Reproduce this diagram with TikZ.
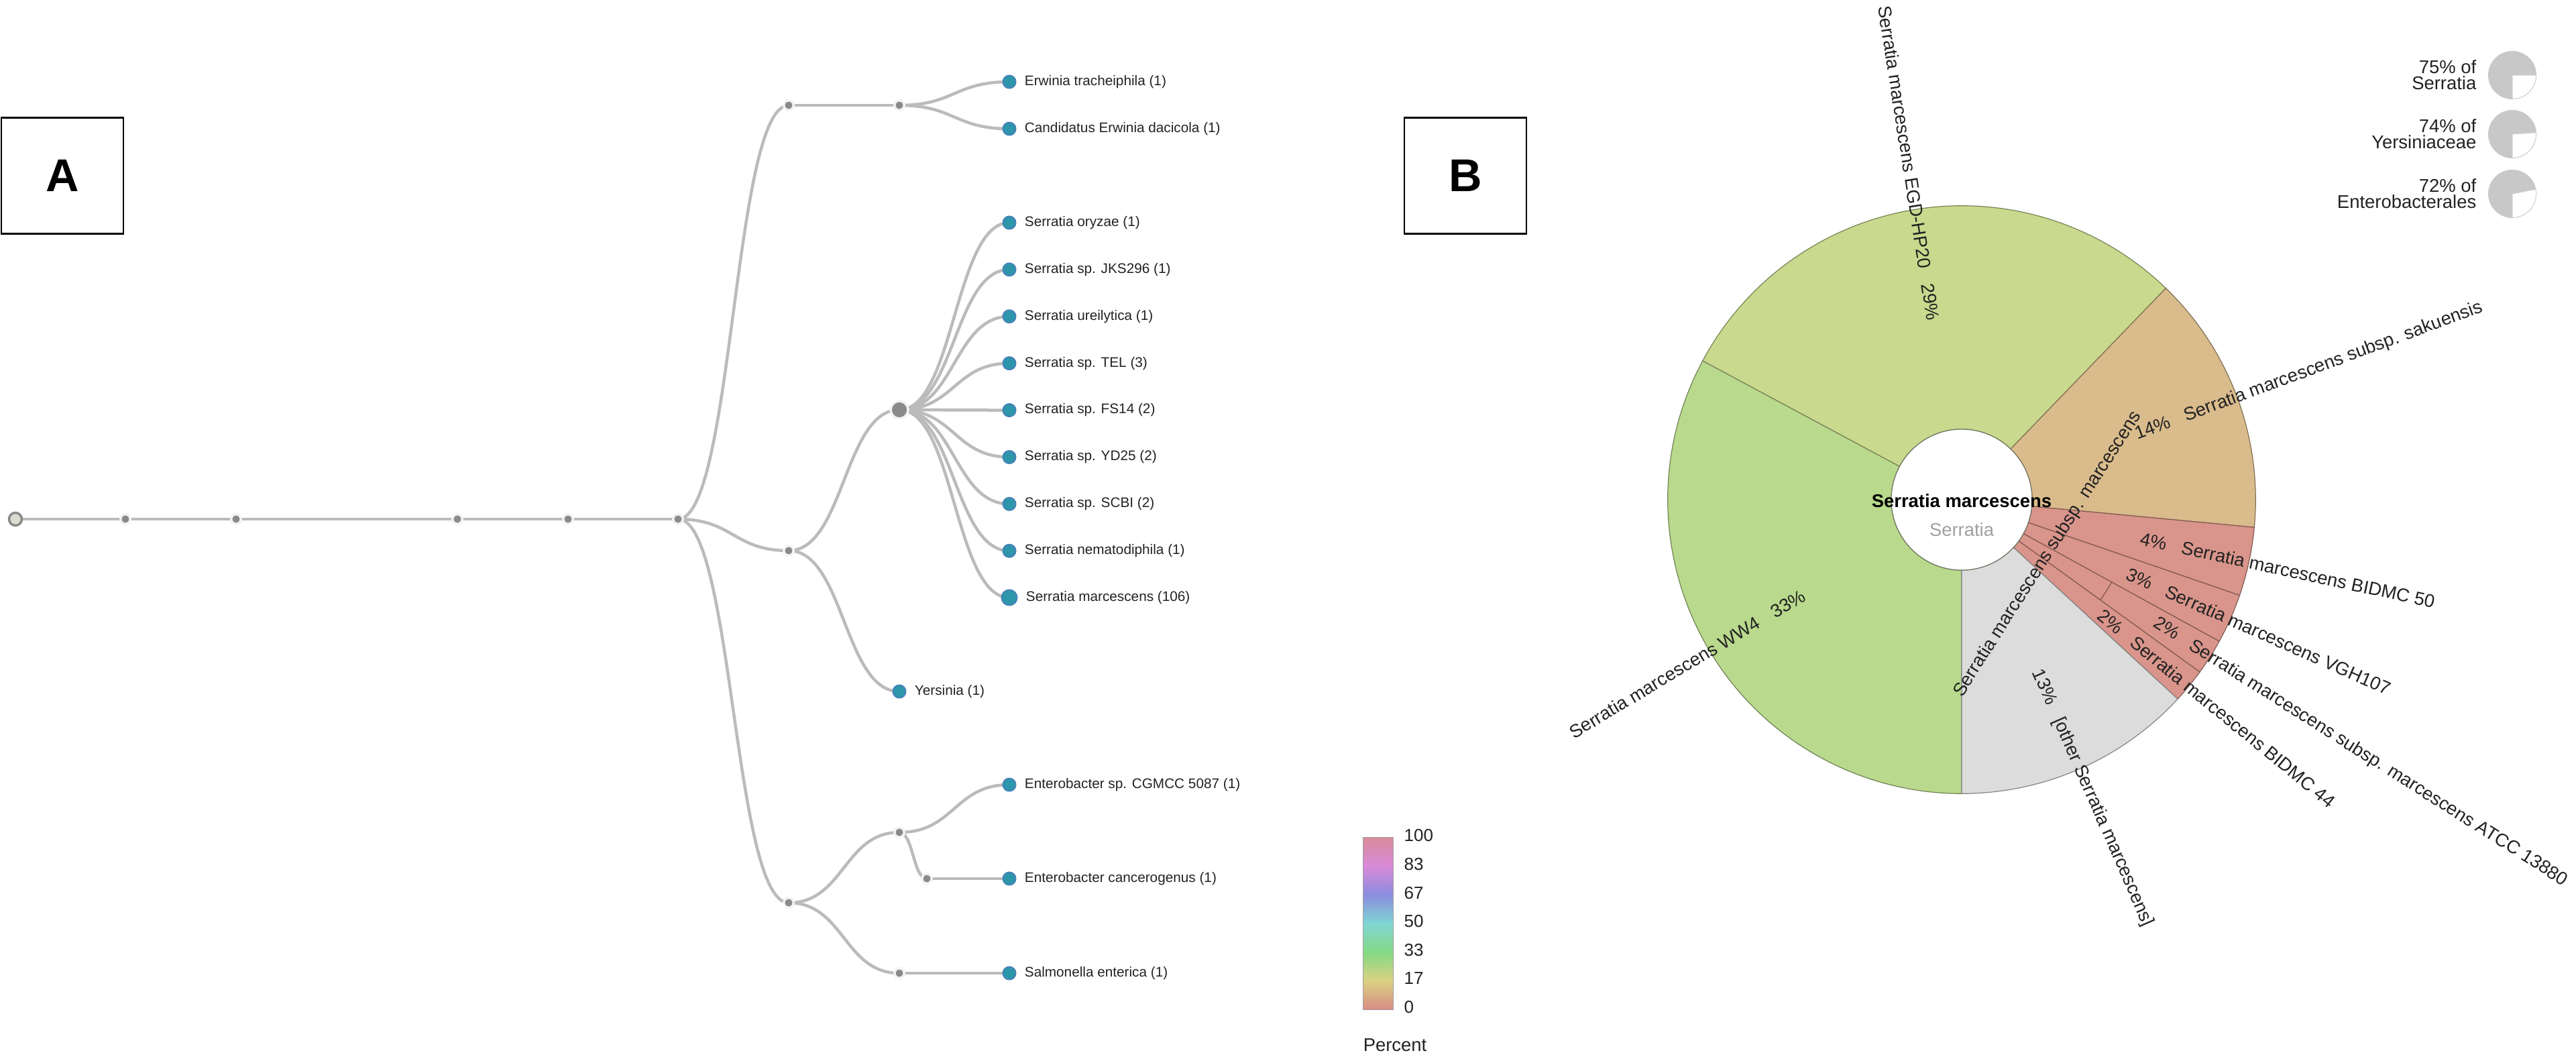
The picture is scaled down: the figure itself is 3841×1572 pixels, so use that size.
\documentclass[tikz,border=0pt]{standalone}
\usepackage{fontspec}
\setmainfont{Liberation Sans}
\usetikzlibrary{calc}
\usetikzlibrary{backgrounds}
\definecolor{color_tree_edge}{HTML}{BBBBBB}
\definecolor{color_tree_node}{HTML}{8A8A8A}
\definecolor{color_tree_halo}{HTML}{F3F3F3}
\definecolor{color_root_fill}{HTML}{DCDCD2}
\definecolor{color_leaf_fill}{HTML}{2D96AA}
\definecolor{color_leaf_rim}{HTML}{4782B9}
\definecolor{color_label}{HTML}{222222}
\definecolor{color_ww4}{HTML}{B9D98D}
\definecolor{color_egd}{HTML}{C9D98D}
\definecolor{color_saku}{HTML}{D9BB8C}
\definecolor{color_red}{HTML}{D9958B}
\definecolor{color_other}{HTML}{DCDCDC}
\definecolor{color_hub_rim}{HTML}{707462}
\definecolor{color_pie}{HTML}{C8C8C8}
\definecolor{color_pie_rim}{HTML}{D2D2D2}
\definecolor{color_bar_rim}{HTML}{A0A0A0}
\definecolor{pc0}{HTML}{D98C86}
\definecolor{pc17}{HTML}{D9D282}
\definecolor{pc33}{HTML}{85D985}
\definecolor{pc50}{HTML}{80D5D5}
\definecolor{pc67}{HTML}{8C8CDE}
\definecolor{pc83}{HTML}{D98AD9}
\definecolor{pc100}{HTML}{D98C99}
\pgfdeclareverticalshading{percentscale}{100bp}{color(0bp)=(pc0); color(25bp)=(pc0); color(33.33bp)=(pc17); color(41.67bp)=(pc33); color(50bp)=(pc50); color(58.33bp)=(pc67); color(66.67bp)=(pc83); color(75bp)=(pc100); color(100bp)=(pc100)}
\newcommand{\treefont}{\fontsize{5.9}{7}\selectfont}
\newcommand{\slicefont}{\fontsize{7.8}{9}\selectfont}
\newcommand{\tickfont}{\fontsize{7.4}{9}\selectfont}
\newcommand{\legendfont}{\fontsize{7.8}{6.9}\selectfont}
\newcommand{\panelfont}{\fontsize{19.5}{22}\selectfont\bfseries}
\newcommand{\pctgap}{\hspace{0.85em}}
\newcommand{\treelink}[2]{\draw[treeedge] let \p1=(#1.center), \p2=(#2.center) in (\p1) .. controls ({0.5*\x1+0.5*\x2},\y1) and ({0.5*\x1+0.5*\x2},\y2) .. (\p2);}
\newcommand{\kronaslice}[5]{\filldraw[slice, fill=#5, draw=#5!60!black] (#1:#3) -- (#1:#4) arc[start angle=#1, end angle=#2, radius=#4] -- (#2:#3) arc[start angle=#2, end angle=#1, radius=#3] -- cycle;}
\tikzset{
  treeedge/.style={color_tree_edge, line width=0.045cm},
  treenode/.style={circle, fill=color_tree_node, draw=color_tree_halo, line width=0.035cm, minimum size=0.145cm, inner sep=0pt},
  genusnode/.style={treenode, minimum size=0.26cm},
  rootnode/.style={circle, fill=color_root_fill, draw=color_tree_node, line width=0.035cm, minimum size=0.19cm, inner sep=0pt},
  leafnode/.style={circle, fill=color_leaf_fill, draw=color_leaf_rim, line width=0.02cm, minimum size=0.19cm, inner sep=0pt},
  leaftext/.style={font=\treefont, text=color_label},
  slice/.style={line width=0.012cm},
  slicetext/.style={font=\slicefont, text=color_label, inner sep=0pt},
  piedisc/.style={circle, fill=color_pie, minimum size=0.72cm, inner sep=0pt},
  legendtext/.style={font=\legendfont, text=color_label, align=right, anchor=east, inner sep=0pt},
  ticktext/.style={font=\tickfont, text=color_label, anchor=west, inner sep=0pt},
  panelbox/.style={draw=black, line width=0.025cm, font=\panelfont, minimum width=1.82cm, minimum height=1.73cm, inner sep=0pt}
}

\begin{document}
\begin{tikzpicture}[x=0.01cm, y=-0.01cm]
    \useasboundingbox (0,0) rectangle (3841,1572);
    % panel letters
    \node[panelbox] (panelA) at (93,262) {A};
    \node[panelbox] (panelB) at (2185,262) {B};

    % tree: trunk
    \node[rootnode] (root) at (23,774) {};
    \foreach \n/\x in {n1/187, n2/352, n3/682, n4/847, n5/1011}
        \node[treenode] (\n) at (\x,774) {};
    % Erwinia
    \node[treenode] (erwgrp) at (1176,157) {};
    \node[treenode] (erwsub) at (1341,157) {};
    \node[leafnode, label={[leaftext]right:Erwinia tracheiphila (1)}] (erwtra) at (1505,122) {};
    \node[leafnode, label={[leaftext]right:Candidatus Erwinia dacicola (1)}] (erwdac) at (1505,192) {};
    % Yersiniaceae
    \node[treenode] (yersgrp) at (1176,821) {};
    \node[genusnode] (serratia) at (1341,611) {};
    \foreach \k/\name in {0/Serratia oryzae (1), 1/Serratia sp. JKS296 (1), 2/Serratia ureilytica (1), 3/Serratia sp. TEL (3), 4/Serratia sp. FS14 (2), 5/Serratia sp. YD25 (2), 6/Serratia sp. SCBI (2), 7/Serratia nematodiphila (1)}
        \node[leafnode, label={[leaftext]right:\name}] (ser\k) at (1505,{332+69.9*\k}) {};
    \node[leafnode, minimum size=0.23cm, label={[leaftext]right:Serratia marcescens (106)}] (ser8) at (1505,891) {};
    \node[leafnode, label={[leaftext]right:Yersinia (1)}] (yers) at (1341,1031) {};
    % Enterobacteriaceae
    \node[treenode] (entgrp) at (1176,1346) {};
    \node[treenode] (ent1) at (1341,1241) {};
    \node[treenode] (ent2) at (1382,1310) {};
    \node[treenode] (salm) at (1341,1451) {};
    \node[leafnode, label={[leaftext]right:Enterobacter sp. CGMCC 5087 (1)}] (entsp) at (1505,1170) {};
    \node[leafnode, label={[leaftext]right:Enterobacter cancerogenus (1)}] (entcan) at (1505,1310) {};
    \node[leafnode, label={[leaftext]right:Salmonella enterica (1)}] (salment) at (1505,1451) {};
    % links behind the nodes
    \begin{scope}[on background layer]
        \foreach \a/\b in {root/n1, n1/n2, n2/n3, n3/n4, n4/n5, n5/erwgrp, erwgrp/erwsub, erwsub/erwtra, erwsub/erwdac, n5/yersgrp, yersgrp/serratia, yersgrp/yers, n5/entgrp, entgrp/ent1, ent1/entsp, ent1/ent2, ent2/entcan, entgrp/salm, salm/salment}
            \treelink{\a}{\b};
        \foreach \k in {0,...,8}
            \treelink{serratia}{ser\k};
    \end{scope}

    % colour scale
    \shadedraw[shading=percentscale, draw=color_bar_rim, line width=0.01cm] (2032,1248) rectangle (2077,1505);
    \foreach \v/\y in {100/1246, 83/1289, 67/1332, 50/1374, 33/1417, 17/1459, 0/1502}
        \node[ticktext] (tick\v) at (2093,\y) {\v};
    \node[ticktext, font=\slicefont, anchor=center] (percent) at (2080,1558) {Percent};

    % sunburst
    \begin{scope}[shift={(2925,745)}]
        \kronaslice{151.8}{270}{1.05cm}{4.38cm}{color_ww4}
        \kronaslice{46}{151.8}{1.05cm}{4.38cm}{color_egd}
        \kronaslice{-5.4}{46}{1.05cm}{4.38cm}{color_saku}
        \kronaslice{-19}{-5.4}{1.05cm}{4.38cm}{color_red}
        \kronaslice{-28.8}{-19}{1.05cm}{4.38cm}{color_red}
        \kronaslice{-35.9}{-28.8}{1.05cm}{2.55cm}{color_red}
        \kronaslice{-35.9}{-28.8}{2.55cm}{4.38cm}{color_red}
        \kronaslice{-42.7}{-35.9}{1.05cm}{4.38cm}{color_red}
        \kronaslice{-90}{-42.7}{1.05cm}{4.38cm}{color_other}
        \node[circle, fill=white, draw=color_hub_rim, line width=0.012cm, minimum size=2.1cm, inner sep=0pt] (hub) at (0,0) {};
        \node[font=\slicefont\bfseries, text=black, inner sep=0pt] (hubname) at (0,2) {Serratia marcescens};
        \node[font=\slicefont, text=color_bar_rim, inner sep=0pt] (hubparent) at (0,45) {Serratia};
        % slice labels
        \node[slicetext, anchor=east, rotate=30.9] (lblww) at (210.9:2.74cm) {Serratia marcescens WW4\pctgap 33\%};
        \node[slicetext, anchor=east, rotate=278.9] (lblegd) at (98.9:2.70cm) {Serratia marcescens EGD-HP20\pctgap 29\%};
        \node[slicetext, anchor=west, rotate=20.3] (lblsaku) at (20.3:2.76cm) {14\%\pctgap Serratia marcescens subsp. sakuensis};
        \node[slicetext, anchor=west, rotate=-12.2] (lblb50) at (-12.2:2.72cm) {4\%\pctgap Serratia marcescens BIDMC 50};
        \node[slicetext, anchor=west, rotate=-23.9] (lblvgh) at (-23.9:2.70cm) {3\%\pctgap Serratia marcescens VGH107};
        \node[slicetext, anchor=west, rotate=-32.35] (lblatcc) at (-32.35:3.40cm) {2\%\pctgap Serratia marcescens subsp. marcescens ATCC 13880};
        \node[slicetext, anchor=west, rotate=-39.3] (lblb44) at (-39.3:2.66cm) {2\%\pctgap Serratia marcescens BIDMC 44};
        \node[slicetext, anchor=west, rotate=-66.35] (lblother) at (-66.35:2.77cm) {13\%\pctgap [other Serratia marcescens]};
        \node[slicetext, rotate=57.6] (lblsubsp) at (-32.4:1.52cm) {Serratia marcescens subsp. marcescens};
    \end{scope}

    % rank pies
    \foreach \n/\y/\a/\pct/\rank in {1/112/0/75/Serratia, 2/200/3.6/74/Yersiniaceae, 3/289/10.8/72/Enterobacterales} {
        \node[piedisc] (pie\n) at (3746,\y) {};
        \filldraw[fill=white, draw=color_pie_rim, line width=0.01cm] (pie\n.center) -- ++(-90:0.355cm) arc[start angle=-90, end angle=\a, radius=0.355cm] -- cycle;
        \node[legendtext] (rank\n) at (3693,\y) {\pct\% of\\\rank};
    }
\end{tikzpicture}
\end{document}
